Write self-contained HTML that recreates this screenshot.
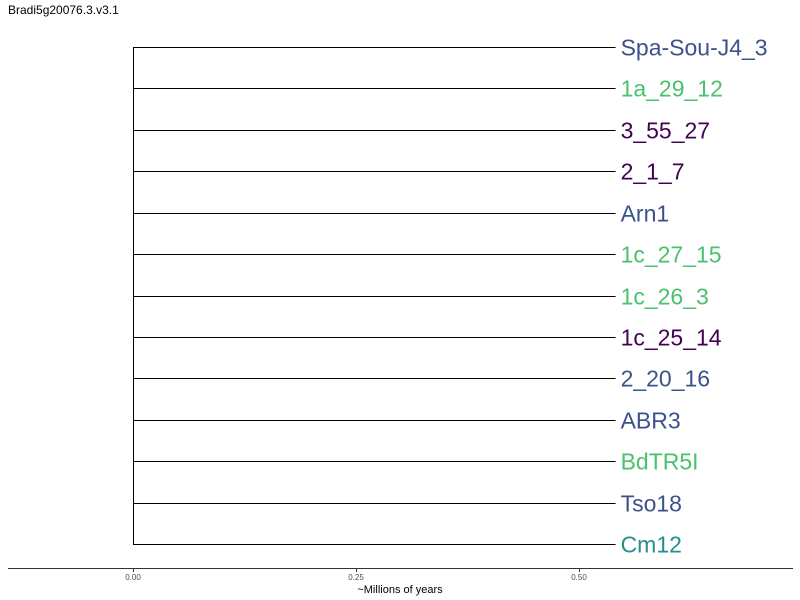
<!DOCTYPE html>
<html><head><meta charset="utf-8"><style>
body{margin:0;background:#fff}
svg{display:block;font-family:"Liberation Sans",sans-serif}
</style></head><body>
<svg id="chart" width="800" height="600">
<text x="8" y="14" font-size="12" fill="#000">Bradi5g20076.3.v3.1</text>
<g id="tree"></g>
<line x1="8" x2="793" y1="568.5" y2="568.5" stroke="#333" stroke-width="1"/>
<g id="ticks"></g>
<text x="400" y="593" font-size="11" text-anchor="middle" fill="#000">~Millions of years</text>
</svg>
<script>
const labels=["Spa-Sou-J4_3","1a_29_12","3_55_27","2_1_7","Arn1","1c_27_15","1c_26_3","1c_25_14","2_20_16","ABR3","BdTR5I","Tso18","Cm12"];
const branchLengths=[0.541,0.541,0.541,0.541,0.541,0.541,0.541,0.541,0.541,0.541,0.541,0.541,0.541];
const labelColors=["#3b528b","#4ac16d","#440154","#440154","#3b528b","#4ac16d","#4ac16d","#440154","#3b528b","#3b528b","#4ac16d","#3b528b","#21908d"];
const tickValues=[0,0.25,0.5];
const tickLabels=["0.00","0.25","0.50"];
const NS="http://www.w3.org/2000/svg";
const x=v=>133+v*892;
const y=i=>47+i*(544-47)/(labels.length-1);
const tree=document.getElementById('tree');
function mk(tag,attrs,parent){const e=document.createElementNS(NS,tag);for(const k in attrs)e.setAttribute(k,attrs[k]);parent.appendChild(e);return e;}
const vl=mk('line',{x1:x(0)+0.5,x2:x(0)+0.5,y1:y(0),y2:y(labels.length-1),stroke:'#000','stroke-width':1},tree);


labels.forEach((lab,i)=>{
  const yy=Math.round(y(i))+0.5;
  const l=mk('line',{x1:x(0),x2:x(branchLengths[i]),y1:yy,y2:yy,stroke:'#000','stroke-width':1},tree);
  
  
  const t=mk('text',{x:x(branchLengths[i])+5,y:yy+8,'font-size':23,fill:labelColors[i]},tree);
  t.textContent=lab;
  
  
});
const tg=document.getElementById('ticks');
tickValues.forEach((v,i)=>{
  const tk=mk('line',{x1:x(v)+0.5,x2:x(v)+0.5,y1:568,y2:572,stroke:'#333'},tg);
  
  
  const t=mk('text',{x:x(v),y:580,'font-size':8,'text-anchor':'middle',fill:'#4d4d4d'},tg);
  t.textContent=tickLabels[i];
  
  
});
</script>
</body></html>
